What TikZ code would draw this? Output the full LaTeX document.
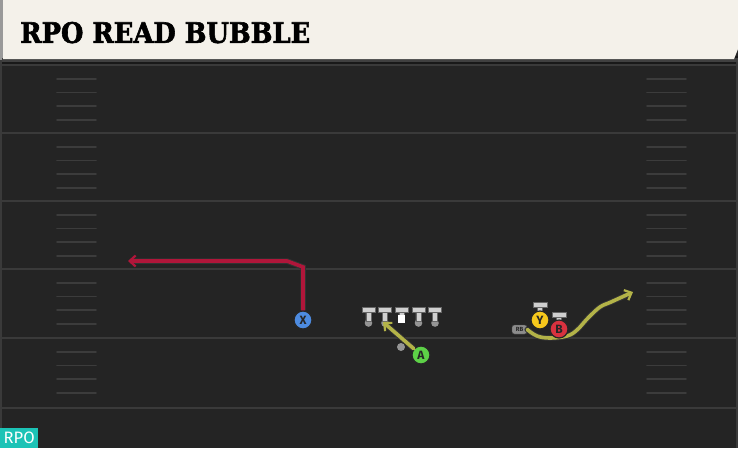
\documentclass[tikz,border=0pt]{standalone}
\usepackage{fontspec}
\usepackage{graphicx}
\setsansfont{Fira Sans}
\newfontfamily\titlefont[BoldFont={DejaVu Serif Condensed Bold}, BoldFeatures={FakeBold=2}]{DejaVu Serif Condensed}
\usetikzlibrary{arrows.meta}
\definecolor{fieldbg}{HTML}{242424}
\definecolor{yardline}{HTML}{3A3A3A}
\definecolor{hashc}{HTML}{3C3C3C}
\definecolor{banner}{HTML}{F4F1EA}
\definecolor{routered}{HTML}{B0163A}
\definecolor{routeolive}{HTML}{B3B348}
\definecolor{pblue}{HTML}{4D8BE0}
\definecolor{pgreen}{HTML}{5DD147}
\definecolor{pyellow}{HTML}{F6C81C}
\definecolor{pred}{HTML}{D8323F}
\definecolor{tgray}{HTML}{CFCFCF}
\definecolor{dotgray}{HTML}{959595}
\definecolor{rpotag}{HTML}{1CC3B6}
\tikzset{
  player/.style={circle, draw=black!85, line width=1.2pt, minimum size=18pt, inner sep=0pt,
    font=\sffamily\bfseries\fontsize{12}{12}\selectfont, text=black!85},
  yard/.style={draw=yardline, line width=2pt},
  hashm/.style={draw=hashc, line width=1.6pt},
  redroute/.style={draw=routered, line width=3.6pt, line join=miter},
  oliveroute/.style={draw=routeolive, line width=3.6pt, line cap=round, line join=round},
  routeshadow/.style={draw=black!80, line width=5.5pt},
  tshape/.style={fill=tgray, draw=black!60, line width=0.5pt},
  lineman/.pic={
    \fill[dotgray] (0,0) circle (3.8);
    \path[tshape] (-6.5,-15.5) rectangle (6.5,-11) (-2.6,-11) rectangle (2.6,-2);
  },
  centerman/.pic={
    \path[tshape] (-6.5,-15.5) rectangle (6.5,-11) (-2.6,-11) rectangle (2.6,-7);
    \fill[white] (-3.8,-8) rectangle (3.8,-0.5);
  },
}
\begin{document}
\begin{tikzpicture}[x=1pt,y=-1pt]
\useasboundingbox (0,0) rectangle (738,448);
% field
\fill[fieldbg] (0,0) rectangle (738,448);
\fill[black!90] (0,56) rectangle (738,64);
\draw[yardline, line width=1.5pt] (1,60) -- (1,448);
\draw[yardline, line width=1.5pt] (737,60) -- (737,448);
% yard lines
\foreach \y in {65,133,201,269,338,408} {
  \draw[yard] (0,\y) -- (738,\y);
}
% hash marks
\foreach \y in {65,133,201,269,338} {
  \foreach \d in {14,27.5,41,55} {
    \draw[hashm, line cap=round] (57,\y+\d) -- (96,\y+\d);
    \draw[hashm, line cap=round] (647,\y+\d) -- (686,\y+\d);
  }
}
% banner
\fill[black!40] (0,0) rectangle (4,60);
\fill[black!75] (2,58) -- (738,58) -- (738,62) -- (2,62) -- cycle;
\fill[banner] (3,0) -- (738,0) -- (738,49) -- (734,59) -- (3,59) -- cycle;
\node[anchor=south west, inner sep=0pt] (title) at (20,43.5)
  {\resizebox{290pt}{21pt}{\titlefont\bfseries RPO READ BUBBLE}};
% RPO tag
\node[fill=rpotag, anchor=south west, minimum width=38pt, minimum height=20pt, inner sep=0pt,
  text=white, font=\sffamily\fontsize{16.5}{16.5}\selectfont] (tag) at (0,448) {RPO};
% nodes
\node[player, fill=pblue] (X) at (303,320) {X};
\coordinate (xturn1) at (303,267);
\coordinate (xturn2) at (287,261);
\coordinate (xend) at (128,261);
% red route
\draw[routeshadow] (X.north) -- (xturn1) -- (xturn2) -- ([xshift=4pt]xend);
\draw[redroute, -{Straight Barb[length=6pt,width=11pt,line width=2.2pt]}] (X.north) -- (xturn1) -- (xturn2) -- (xend);
% offensive line
\pic at (368.5,323) {lineman};
\pic at (385,323) {lineman};
\pic at (401.5,323) {centerman};
\pic at (418.5,323) {lineman};
\pic at (435,323) {lineman};
% QB dot
\fill[dotgray] (401,347) circle (4) coordinate (qb);
% A route
\node[player, fill=pgreen] (A) at (421,355) {A};
\coordinate (aend) at (383,322);
\draw[draw=black!80, line width=5.5pt, shorten >=4pt] (A) -- (aend);
\draw[oliveroute, -{Straight Barb[length=6pt,width=11pt,line width=2.2pt]}] (A) -- (aend);
% RB route
\node[fill=black!45, draw=black!70, rounded corners=2.5pt, inner sep=0pt, minimum width=15pt, minimum height=9pt,
  font=\sffamily\bfseries\fontsize{6}{6}\selectfont, text=black!85] (RB) at (519.5,329.5) {RB};
\coordinate (rbend) at (633,292);
\draw[draw=black!80, line width=5.5pt, line cap=round, line join=round] plot[smooth, tension=0.6] coordinates {(RB.east) (537,336) (550,338) (567,336) (577,330) (588,318) (600,307) (611,302) (627,295)};
\draw[oliveroute, -{Straight Barb[length=6pt,width=11pt,line width=2.2pt]}] plot[smooth, tension=0.6] coordinates {(RB.east) (537,336) (550,338) (567,336) (577,330) (588,318) (600,307) (611,302) (rbend)};
% Y and B with T markers
\path[tshape] (533,302.5) rectangle (547,307) (537.4,307) rectangle (542.6,312);
\node[player, fill=pyellow] (Y) at (540,320) {Y};
\path[tshape] (552,312.5) rectangle (566,317) (556.4,317) rectangle (561.6,321);
\node[player, fill=pred] (B) at (559,329) {B};
\end{tikzpicture}
\end{document}
